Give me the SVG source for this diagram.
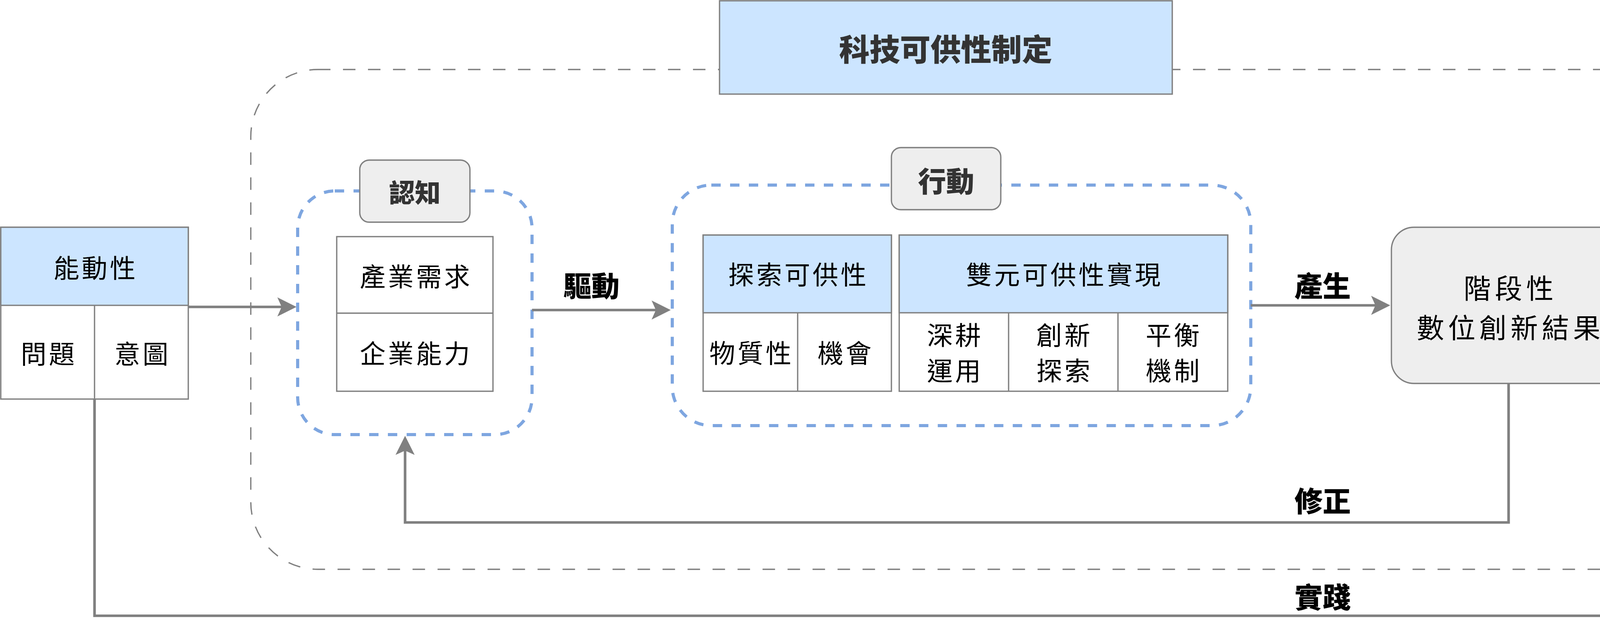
<svg xmlns="http://www.w3.org/2000/svg" width="5248" height="1616" viewBox="0 0 5248 1616">
<style>
.t{font-family:"Noto Sans CJK TC","Noto Sans CJK SC",sans-serif;text-anchor:middle;dominant-baseline:central}
.b{font-size:66px;letter-spacing:6px;fill:#000}
.bl{font-size:70px;letter-spacing:10px;fill:#000}
.lab{font-size:72px;font-weight:900;fill:#000}
.tag{font-size:66px;font-weight:900;fill:#333}
.box{stroke:#808080;stroke-width:3.35}
.blue{fill:#CCE5FF}
.gray{fill:#EEEEEE}
.white{fill:#FFFFFF}
.dashg{fill:none;stroke:#808080;stroke-width:3.35;stroke-dasharray:32 32}
.dashb{fill:none;stroke:#7EA6E0;stroke-width:8;stroke-dasharray:24 24}
.conn{fill:none;stroke:#808080;stroke-width:6.7}
</style>
<defs>
<marker id="arr" markerUnits="userSpaceOnUse" viewBox="-12 -26 52 52" markerWidth="52" markerHeight="52" refX="0" refY="0" orient="auto-start-reverse">
<path d="M38,0 L-11,-24.5 L0,0 L-11,24.5 Z" fill="#808080"/>
</marker>
</defs>

<g id="outer-container">
<rect class="dashg" x="642" y="178" width="3679" height="1280" rx="172" ry="172"/>
</g>

<g id="title-box">
<rect class="box blue" x="1842" y="2" width="1159" height="239"/>
<text class="t tag" x="2421" y="122" style="font-size:78px">科技可供性制定</text>
</g>

<g id="agency">
<rect class="box white" x="2" y="582" width="480" height="440"/>
<rect class="box blue" x="2" y="582" width="480" height="200"/>
<line class="box" x1="242" y1="782" x2="242" y2="1022"/>
<text class="t b" x="245" y="682">能動性</text>
<text class="t b" x="125" y="902">問題</text>
<text class="t b" x="365" y="902">意圖</text>
</g>

<g id="cognition">
<rect class="dashb" x="762" y="489" width="600" height="624" rx="95" ry="95"/>
<rect class="box gray" x="921" y="410" width="282" height="159" rx="24" ry="24"/>
<text class="t tag" x="1062" y="489">認知</text>
<rect class="box white" x="862" y="606" width="400" height="396"/>
<line class="box" x1="862" y1="802" x2="1262" y2="802"/>
<text class="t b" x="1065" y="704">產業需求</text>
<text class="t b" x="1065" y="901">企業能力</text>
</g>

<g id="action">
<rect class="dashb" x="1721" y="474" width="1481" height="616" rx="100" ry="100"/>
<rect class="box gray" x="2282" y="378" width="280" height="159" rx="24" ry="24"/>
<text class="t tag" x="2422" y="459" style="font-size:72px">行動</text>
<rect class="box white" x="1800" y="602" width="482" height="400"/>
<rect class="box blue" x="1800" y="602" width="482" height="199"/>
<line class="box" x1="2042" y1="801" x2="2042" y2="1002"/>
<text class="t b" x="2044" y="699">探索可供性</text>
<text class="t b" x="1924" y="900">物質性</text>
<text class="t b" x="2165" y="900">機會</text>
<rect class="box white" x="2302" y="602" width="841" height="400"/>
<rect class="box blue" x="2302" y="602" width="841" height="199"/>
<line class="box" x1="2582" y1="801" x2="2582" y2="1002"/>
<line class="box" x1="2862" y1="801" x2="2862" y2="1002"/>
<text class="t b" x="2725" y="699">雙元可供性實現</text>
<text class="t b" x="2445" y="854">深耕</text>
<text class="t b" x="2445" y="945">運用</text>
<text class="t b" x="2725" y="854">創新</text>
<text class="t b" x="2725" y="945">探索</text>
<text class="t b" x="3005" y="854">平衡</text>
<text class="t b" x="3005" y="945">機制</text>
</g>

<g id="staged-result">
<rect class="box gray" x="3562" y="582" width="599" height="400" rx="58" ry="58"/>
<text class="t bl" x="3867" y="734">階段性</text>
<text class="t bl" x="3867" y="835">數位創新結果</text>
</g>

<g id="purpose">
<rect class="dashg" x="4521" y="539" width="721" height="442" rx="66" ry="66"/>
<rect class="box gray" x="4741" y="458" width="281" height="162" rx="24" ry="24"/>
<text class="t tag" x="4882" y="540">目的</text>
<rect class="box" x="4596" y="661" width="571" height="278" rx="42" ry="42" style="fill:#FFF2CC"/>
<text class="t bl" x="4887" y="755">數位創新</text>
<text class="t bl" x="4887" y="852">產業生態系</text>
</g>

<g id="connectors">
<path class="conn" d="M482,786 H721" marker-end="url(#arr)"/>
<path class="conn" d="M1362,794 H1679" marker-end="url(#arr)"/>
<path class="conn" d="M3202,782 H3521" marker-end="url(#arr)"/>
<path class="conn" d="M4201,781 H4484" marker-start="url(#arr)" marker-end="url(#arr)"/>
<path class="conn" d="M3862,982 V1338 H1037 V1154" marker-end="url(#arr)"/>
<path class="conn" d="M242,1022 V1577 H4882 V1021" marker-end="url(#arr)"/>
<text class="t lab" x="1514" y="727">驅動</text>
<text class="t lab" x="3386" y="727">產生</text>
<text class="t lab" x="3386" y="1278">修正</text>
<text class="t lab" x="3386" y="1524">實踐</text>
</g>
</svg>
